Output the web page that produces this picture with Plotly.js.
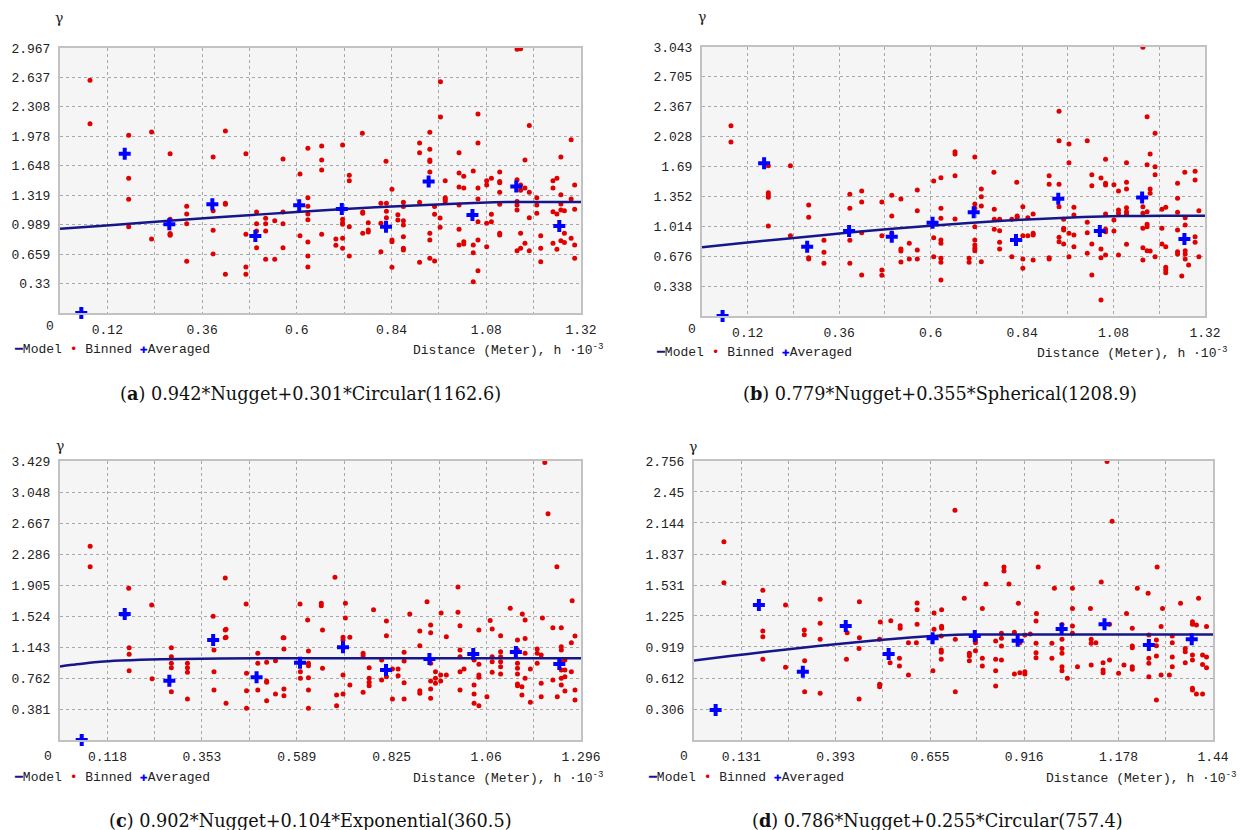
<!DOCTYPE html>
<html><head><meta charset="utf-8">
<script src="https://cdn.plot.ly/plotly-3.0.1.min.js"></script>
<style>html,body{margin:0;padding:0;background:#fff;}#chart{width:1246px;height:830px;}</style>
</head><body><div id="chart"></div>
<script>
// ---------- Panel (a) ----------
const aXTicks=[0.12,0.36,0.6,0.84,1.08,1.32];
const aXMinor=[0.24,0.48,0.72,0.96,1.2];
const aYTicks=[0.33,0.659,0.989,1.319,1.648,1.978,2.308,2.637,2.967];
const aBinX=[0.076,0.076,0.174,0.232,0.279,0.388,0.419,0.471,0.565,0.608,0.628,0.174,0.628,0.174,
0.174,0.232,0.279,0.279,0.279,0.279,0.321,0.321,0.321,0.321,0.388,0.388,0.388,0.419,0.419,0.419,0.471,0.471,0.471,0.498,0.498,0.498,0.498,0.521,0.521,0.521,0.521,0.544,0.544,0.565,0.565,0.565,0.608,0.628,0.628,0.628,0.628,0.628,0.628,
1.158,1.167,0.964,0.964,1.059,1.189,0.937,0.766,0.911,1.059,1.295,0.663,0.716,0.911,0.937,1.011,0.937,0.937,0.663,0.663,0.826,1.178,1.269,0.733,0.733,0.937,1.011,1.023,1.047,1.081,1.081,1.093,1.114,1.114,1.114,1.114,1.158,1.167,1.167,1.178,1.189,1.208,1.249,1.249,1.259,1.269,1.295,1.304,0.976,0.976,1.011,1.023,1.059,1.059,
0.716,0.716,0.716,0.716,0.716,0.733,0.733,0.699,0.699,0.663,0.767,0.767,0.767,0.781,0.781,0.781,0.813,0.813,0.813,0.827,0.827,0.827,0.841,0.841,0.841,0.841,0.856,0.856,0.870,0.870,0.870,0.870,0.870,0.870,0.870,0.911,0.911,0.937,0.937,0.937,0.949,0.949,0.949,0.963,0.963,0.976,0.976,1.011,1.011,1.011,1.023,1.023,1.047,1.047,1.047,1.059,1.059,1.059,1.081,1.081,1.093,1.093,1.114,1.114,1.114,1.158,1.158,1.158,1.158,1.167,1.167,1.178,1.189,1.189,1.208,1.208,1.218,1.218,1.218,1.249,1.249,1.259,1.259,1.269,1.269,1.269,1.278,1.278,1.278,1.295,1.304,1.304,1.304];
const aBinY=[2.606,2.12,1.99,2.027,1.784,1.747,2.038,1.784,1.725,1.556,1.844,1.508,1.291,1.273,
0.967,0.829,1.049,0.89,0.88,0.87,1.195,1.109,1.0,0.579,1.146,0.926,0.661,1.229,1.217,0.433,0.881,0.515,0.433,1.131,1.0,0.918,0.731,1.06,1.0,0.918,0.601,1.034,0.601,1.131,1.0,0.731,0.866,1.195,1.109,1.045,0.795,0.638,0.515,
2.953,2.96,2.59,2.195,2.229,2.098,2.024,2.013,1.904,1.904,1.941,1.870,1.882,1.795,1.833,1.795,1.714,1.695,1.714,1.602,1.699,1.714,1.747,1.542,1.482,1.579,1.568,1.531,1.590,1.482,1.434,1.509,1.579,1.471,1.459,1.352,1.493,1.434,1.374,1.40,1.352,1.291,1.482,1.40,1.509,1.325,1.277,1.434,1.482,1.291,1.411,1.40,1.40,1.277,
1.049,1.011,0.993,0.836,0.724,0.967,0.638,0.829,0.758,0.881,1.131,1.117,0.893,1.011,0.93,0.907,1.229,1.005,0.687,1.229,1.139,1.067,1.385,0.818,0.799,0.512,1.10,1.042,1.24,1.191,1.034,0.986,0.855,0.724,0.706,1.24,0.568,0.893,0.818,0.613,1.191,1.105,0.582,1.064,0.96,1.273,1.247,1.21,0.938,0.762,0.799,0.773,0.762,0.675,0.351,1.023,0.818,0.474,1.005,0.743,1.105,1.023,1.217,0.893,0.874,1.247,1.21,1.154,0.698,0.893,0.724,0.781,1.067,0.698,1.21,1.117,0.866,0.724,0.575,1.135,0.781,1.109,0.713,1.221,1.154,0.81,1.146,0.893,0.788,0.836,1.161,0.762,0.613];
const aAvgX=[0.054,0.164,0.277,0.386,0.495,0.606,0.714,0.826,0.934,1.045,1.156,1.265];
const aAvgY=[0.0,1.784,0.993,1.217,0.862,1.206,1.165,0.967,1.471,1.098,1.415,0.974];
const aModelX=[0,0.1,0.2,0.4,0.6,0.8,1.0,1.1,1.1626,1.32];
const aModelY=[0.942,0.975,1.008,1.071,1.131,1.183,1.224,1.239,1.243,1.243];

// ---------- Panel (b) ----------
const bXTicks=[0.12,0.36,0.6,0.84,1.08,1.32];
const bXMinor=[0.24,0.48,0.72,0.96,1.2];
const bYTicks=[0.338,0.676,1.014,1.352,1.69,2.028,2.367,2.705,3.043];
const bBinX=[0.076,0.076,0.174,0.232,0.174,0.174,0.388,0.419,0.498,0.522,0.565,0.608,0.627,
0.174,0.174,0.232,0.28,0.28,0.28,0.28,0.320,0.320,0.320,0.388,0.388,0.388,0.419,0.419,0.419,0.472,0.472,0.472,0.472,0.498,0.498,0.522,0.522,0.522,0.544,0.544,0.565,0.565,0.565,0.608,0.608,0.627,0.627,0.627,0.627,0.627,0.627,0.627,
1.157,0.937,1.168,1.189,0.937,0.963,1.011,0.664,0.664,0.716,1.176,0.963,1.059,1.114,1.168,1.189,1.189,0.664,0.766,0.826,0.911,0.911,0.937,1.023,1.023,1.047,1.059,1.059,1.081,1.093,1.114,1.114,1.176,1.176,1.248,1.267,1.294,1.294,1.248,0.733,0.733,
0.733,0.716,0.716,0.716,0.716,0.716,0.716,0.716,0.701,0.701,0.733,0.664,0.767,0.767,0.781,0.781,0.781,0.781,0.767,0.813,0.813,0.827,0.827,0.842,0.842,0.842,0.842,0.855,0.855,0.869,0.869,0.869,0.869,0.911,0.911,0.937,0.937,0.937,0.949,0.949,0.949,0.949,0.963,0.963,0.976,0.976,0.976,0.976,1.011,1.011,1.011,1.023,1.023,1.047,1.047,1.047,1.059,1.059,1.059,1.059,1.081,1.081,1.093,1.093,1.093,1.114,1.114,1.114,1.114,1.157,1.157,1.157,1.157,1.157,1.168,1.168,1.168,1.168,1.176,1.189,1.207,1.207,1.207,1.217,1.217,1.217,1.217,1.217,1.248,1.248,1.248,1.248,1.259,1.268,1.268,1.268,1.268,1.268,1.277,1.294,1.294,1.304,1.304];
const bBinY=[2.153,1.968,1.70,1.70,1.395,1.343,1.377,1.414,1.365,1.324,1.425,1.527,1.565,
1.369,1.018,0.908,1.256,1.116,0.66,0.645,0.856,0.721,0.596,1.218,0.856,0.596,1.29,0.942,0.464,1.29,0.908,0.52,0.46,1.131,0.935,0.758,0.735,0.611,0.822,0.645,1.191,0.747,0.645,0.886,0.671,1.218,1.105,0.86,0.822,0.653,0.607,0.407,
3.04,2.316,2.255,2.067,1.983,1.946,1.983,1.859,1.833,1.799,1.833,1.734,1.773,1.734,1.712,1.689,1.598,1.587,1.626,1.512,1.587,1.49,1.49,1.598,1.474,1.561,1.501,1.482,1.485,1.414,1.512,1.437,1.437,1.388,1.501,1.626,1.637,1.538,1.331,1.437,1.35,
1.244,1.267,1.218,1.01,0.86,0.803,0.766,0.739,0.653,0.607,0.614,1.097,1.207,0.981,1.094,0.965,0.834,0.758,1.094,1.094,0.671,1.131,1.116,1.237,0.908,0.645,0.54,1.112,0.908,1.154,0.935,0.916,0.634,0.66,0.645,1.237,0.89,0.841,1.094,0.992,0.973,0.815,0.935,0.671,1.23,1.143,0.916,0.784,1.06,0.942,0.709,0.815,0.464,0.758,0.66,0.181,1.154,0.981,0.954,0.69,1.086,0.962,1.199,1.162,0.69,1.225,1.18,1.15,0.811,1.237,1.162,0.992,0.773,0.634,1.18,1.037,1.01,0.739,0.735,0.671,1.207,0.992,0.815,1.23,0.784,0.551,0.52,0.49,1.173,0.973,0.727,0.701,0.452,1.112,1.029,0.739,0.701,0.645,0.577,0.897,0.834,0.671,1.191];
const bAvgX=[0.054,0.163,0.276,0.386,0.498,0.605,0.713,0.824,0.935,1.044,1.155,1.266];
const bAvgY=[0.0,1.727,0.784,0.962,0.897,1.055,1.173,0.86,1.326,0.962,1.34,0.871];
const bModelX=[0,0.1,0.2,0.4,0.6,0.8,1.0,1.1,1.209,1.32];
const bModelY=[0.779,0.823,0.866,0.949,1.022,1.080,1.119,1.130,1.134,1.134];

// ---------- Panel (c) ----------
const cXTicks=[0.118,0.353,0.589,0.825,1.06,1.296];
const cXMinor=[0.236,0.471,0.707,0.943,1.178];
const cYTicks=[0.381,0.762,1.143,1.524,1.905,2.286,2.667,3.048,3.429];
const cBinX=[0.075,0.075,0.171,0.228,0.411,0.463,0.381,0.597,0.616,0.411,0.411,0.555,
0.172,0.172,0.172,0.229,0.277,0.277,0.277,0.277,0.277,0.317,0.317,0.317,0.317,0.383,0.383,0.383,0.413,0.413,0.413,0.464,0.464,0.464,0.492,0.492,0.492,0.514,0.514,0.514,0.514,0.536,0.536,0.557,0.557,0.557,0.557,0.598,0.598,0.618,0.618,0.618,0.618,0.618,0.618,0.653,0.653,0.688,0.688,0.704,0.704,0.704,0.704,0.721,0.721,0.754,0.754,0.754,0.769,0.769,0.769,0.769,0.8,0.8,0.812,0.812,0.812,0.827,0.827,0.841,0.841,0.856,0.856,0.856,0.856,0.895,0.895,0.895,0.895,0.922,0.922,0.922,0.922,0.922,0.922,0.934,0.934,0.934,0.947,0.947,0.961,0.961,0.995,0.995,0.995,0.995,0.995,1.005,1.03,1.03,1.03,1.03,1.042,1.042,1.042,1.042,1.042,1.062,1.075,1.075,1.075,1.075,1.096,1.096,1.096,1.096,1.096,1.096,1.138,1.138,1.138,1.138,1.138,1.138,1.138,1.149,1.149,1.157,1.157,1.157,1.157,1.17,1.17,1.187,1.187,1.187,1.197,1.197,1.197,1.226,1.226,1.237,1.247,1.247,1.247,1.247,1.247,1.247,1.247,1.256,1.256,1.256,1.256,1.272,1.272,1.281,1.281,1.281,
1.206,1.214,1.236,0.684,0.99,1.274,0.65,0.65,0.71,0.71,0.913,0.948,0.99,1.07,0.78,1.12,1.15,0.87,1.2];
const cBinY=[2.381,2.13,1.864,1.659,1.991,1.671,1.52,1.671,1.475,1.352,1.257,1.257,
1.135,1.053,0.852,0.754,1.135,1.024,0.942,0.889,0.594,0.942,0.889,0.832,0.504,1.106,0.84,0.615,1.36,1.262,0.451,0.82,0.606,0.39,1.065,0.942,0.615,0.955,0.725,0.709,0.483,0.975,0.565,1.258,1.118,0.627,0.545,0.84,0.758,1.094,0.942,0.913,0.766,0.615,0.39,1.352,0.881,0.553,0.422,1.262,1.229,0.799,0.565,1.262,0.676,1.065,1.036,0.586,0.889,0.758,0.709,0.668,0.983,0.737,1.463,1.282,0.778,0.873,0.504,0.873,0.79,1.078,0.971,0.705,0.504,1.34,1.159,0.606,0.574,1.413,1.319,0.942,0.725,0.627,0.512,0.84,0.758,0.697,0.799,0.725,1.27,0.799,1.405,1.106,1.024,0.84,0.615,0.873,0.983,0.676,0.565,0.451,1.352,0.93,0.799,0.77,0.422,0.532,1.364,1.024,0.962,0.832,1.282,1.085,1.024,0.962,0.901,0.811,1.229,1.106,0.942,0.881,0.811,0.688,0.668,0.655,0.553,1.475,1.249,1.065,0.758,0.873,0.463,1.118,1.065,0.942,1.045,0.697,0.532,1.381,0.737,0.532,1.381,1.147,1.106,0.962,0.86,0.758,0.676,0.983,0.86,0.778,0.602,1.196,0.84,1.278,0.615,0.492,
3.41,2.78,2.13,2.0,1.88,1.71,1.68,1.65,1.68,1.5,1.7,1.56,1.57,1.47,1.6,1.62,1.55,1.55,1.5];
const cAvgX=[0.054,0.161,0.272,0.381,0.489,0.597,0.704,0.811,0.919,1.028,1.134,1.242];
const cAvgY=[0.0,1.549,0.729,1.229,0.77,0.95,1.139,0.86,0.995,1.057,1.081,0.934];
const cModelX=[0,0.03,0.06,0.1,0.15,0.2,0.3,0.4,0.6,0.9,1.296];
const cModelY=[0.902,0.924,0.941,0.961,0.976,0.986,0.997,1.002,1.005,1.006,1.006];

// ---------- Panel (d) ----------
const dXTicks=[0.131,0.393,0.655,0.916,1.178,1.44];
const dXMinor=[0.262,0.524,0.785,1.047,1.309];
const dYTicks=[0.306,0.612,0.919,1.225,1.531,1.837,2.144,2.45,2.756];
const dBinX=[0.083,0.083,0.191,0.254,0.35,0.459,0.619,0.619,0.619,0.666,0.687,0.191,0.191,0.306,0.306,0.35,0.35,0.425,0.459,0.517,0.546,0.572,0.572,0.666,0.687,0.687,
0.191,0.254,0.307,0.307,0.35,0.423,0.458,0.458,0.515,0.515,0.515,0.544,0.57,0.57,0.595,0.595,0.617,0.663,0.686,0.686,0.686,0.686,0.725,0.725,0.764,0.764,0.764,0.781,0.781,0.781,0.781,0.8,0.8,0.837,0.837,0.837,0.837,0.853,0.853,0.853,0.853,0.889,0.889,0.904,0.904,0.918,0.918,0.918,0.933,0.949,0.949,0.949,0.949,0.993,0.993,1.021,1.021,1.021,1.021,1.021,1.021,1.021,1.036,1.05,1.05,1.064,1.102,1.102,1.102,1.115,1.135,1.135,1.135,1.153,1.153,1.178,1.193,1.216,1.216,1.216,1.216,1.216,1.262,1.262,1.262,1.262,1.283,1.283,1.283,1.283,1.296,1.296,1.327,1.327,1.327,1.327,1.319,1.363,1.363,1.363,1.383,1.383,1.383,1.383,1.383,1.383,1.394,1.394,1.411,1.411,1.411,1.422,1.422,1.422,
0.724,1.146,1.16,0.86,0.86,0.955,1.285,0.81,0.874,1.0,1.05,1.13,1.23,1.26,0.75,0.9,1.1,1.2,1.3,1.35,1.4,0.8,0.95,1.05];
const dBinY=[1.959,1.554,1.479,1.334,1.39,1.366,1.353,1.287,1.143,1.254,1.287,1.077,1.02,1.087,1.04,1.153,0.995,1.06,1.011,1.166,1.179,1.129,1.103,1.093,1.123,1.103,
0.797,0.718,0.784,0.477,0.461,0.797,0.905,0.405,0.994,0.55,0.527,0.764,0.807,0.731,0.961,0.642,0.961,0.685,1.027,0.889,0.866,0.797,0.994,0.477,0.856,0.833,0.784,1.014,0.988,0.961,0.882,0.807,0.731,0.978,0.797,0.685,0.533,1.054,1.004,0.929,0.79,1.064,0.652,0.961,0.665,1.037,0.675,0.652,1.047,1.175,0.955,0.863,0.813,0.955,0.807,1.14,1.093,0.994,0.905,0.856,0.724,0.685,0.609,1.126,1.054,0.724,0.994,0.955,0.741,0.961,0.764,0.691,0.665,1.143,0.79,0.66,0.741,1.103,0.929,0.912,0.724,0.698,1.037,0.807,0.758,0.625,0.988,0.932,0.83,0.395,1.12,0.642,1.027,0.961,0.82,0.724,0.642,0.905,0.872,0.764,1.169,1.143,0.84,0.79,0.51,0.494,1.136,0.454,0.84,0.745,0.454,1.12,0.82,0.714,
2.27,2.75,2.16,1.71,1.67,1.71,1.71,1.54,1.54,1.5,1.5,1.56,1.5,1.45,1.4,1.35,1.3,1.25,1.3,1.35,1.4,1.3,1.25,1.3];
const dAvgX=[0.06,0.18,0.302,0.421,0.54,0.662,0.779,0.898,1.02,1.139,1.262,1.381];
const dAvgY=[0.296,1.334,0.675,1.126,0.85,1.004,1.027,0.981,1.096,1.143,0.938,0.994];
const dModelX=[0,0.1,0.2,0.3,0.4,0.5,0.6,0.7,0.757,1.0,1.44];
const dModelY=[0.786,0.829,0.871,0.911,0.949,0.983,1.013,1.035,1.041,1.041,1.041];

const captions=[
 '(<b>a</b>) 0.942*Nugget+0.301*Circular(1162.6)',
 '(<b>b</b>) 0.779*Nugget+0.355*Spherical(1208.9)',
 '(<b>c</b>) 0.902*Nugget+0.104*Exponential(360.5)',
 '(<b>d</b>) 0.786*Nugget+0.255*Circular(757.4)'];

// ---------- layout helpers ----------
const W=1246,H=830;
const px=p=>p/W, py=p=>1-p/H;
const MONO='Liberation Mono, DejaVu Sans Mono, monospace';
const panels=[
 {bin:[aBinX,aBinY],avg:[aAvgX,aAvgY],mod:[aModelX,aModelY],xt:aXTicks,xm:aXMinor,yt:aYTicks,box:[60,581,48,313],zero:[50,326],leg:[12,349],ttl:[605,349],gam:[59,18],cap:[310,393]},
 {bin:[bBinX,bBinY],avg:[bAvgX,bAvgY],mod:[bModelX,bModelY],xt:bXTicks,xm:bXMinor,yt:bYTicks,box:[702,1205,47,316],zero:[692,329],leg:[654,352],ttl:[1229,352],gam:[702,17],cap:[940,393]},
 {bin:[cBinX,cBinY],avg:[cAvgX,cAvgY],mod:[cModelX,cModelY],xt:cXTicks,xm:cXMinor,yt:cYTicks,box:[60,581,461,740],zero:[48,756],leg:[12,777],ttl:[605,777],gam:[60,446],cap:[310,820]},
 {bin:[dBinX,dBinY],avg:[dAvgX,dAvgY],mod:[dModelX,dModelY],xt:dXTicks,xm:dXMinor,yt:dYTicks,box:[694,1213,461,740],zero:[684,756],leg:[646,777],ttl:[1238,777],gam:[693,447],cap:[937,820]}
];

const data=[], layout={width:W,height:H,margin:{l:0,r:0,t:0,b:0},paper_bgcolor:'#ffffff',plot_bgcolor:'rgba(0,0,0,0)',showlegend:false,annotations:[]};
panels.forEach((p,i)=>{
  const n=i===0?'':String(i+1);
  const xa='x'+n, ya='y'+n;
  data.push({type:'scatter',mode:'markers',x:p.bin[0],y:p.bin[1],xaxis:xa,yaxis:ya,name:'Binned',
    marker:{color:'#e00000',size:5},cliponaxis:false});
  data.push({type:'scatter',mode:'lines',x:p.mod[0],y:p.mod[1],xaxis:xa,yaxis:ya,name:'Model',
    line:{color:'#16168a',width:2.5,shape:'spline',smoothing:0.6}});
  data.push({type:'scatter',mode:'markers',x:p.avg[0],y:p.avg[1],xaxis:xa,yaxis:ya,name:'Averaged',
    marker:{color:'#0000ff',size:10,symbol:'cross',line:{width:0}},cliponaxis:false});
  const xmax=p.xt[p.xt.length-1], ymax=p.yt[p.yt.length-1];
  const grid={showgrid:true,gridcolor:'#a9a9a9',griddash:'dot',gridwidth:1};
  const common=Object.assign({},grid,{zeroline:false,showline:true,linecolor:'#c2c2c2',linewidth:2,mirror:true,ticks:'',fixedrange:true,
    tickfont:{family:MONO,size:13,color:'#222'}});
  layout['xaxis'+n]=Object.assign({},common,{domain:[px(p.box[0]),px(p.box[1])],range:[0,xmax],
    tickmode:'array',tickvals:p.xt,ticktext:p.xt.map(String),anchor:ya,ticklabelstandoff:3,
    minor:Object.assign({tickmode:'array',tickvals:p.xm,ticks:''},grid)});
  layout['yaxis'+n]=Object.assign({},common,{domain:[py(p.box[3]),py(p.box[2])],range:[0,ymax],
    tickmode:'array',tickvals:p.yt,ticktext:p.yt.map(String),anchor:xa,ticklabelstandoff:5});
  const A=layout.annotations;
  A.push({xref:'paper',yref:'paper',x:px(p.zero[0]),y:py(p.zero[1]),text:'0',showarrow:false,
    xanchor:'center',yanchor:'middle',font:{family:MONO,size:13,color:'#222'}});
  A.push({xref:'paper',yref:'paper',x:px(p.leg[0]),y:py(p.leg[1]),showarrow:false,xanchor:'left',yanchor:'middle',
    text:"<span style='color:#16168a'>━</span>Model <span style='color:#e00000'>•</span> Binned <span style='color:#0000ff'>✚</span>Averaged",
    font:{family:MONO,size:13,color:'#222'}});
  A.push({xref:'paper',yref:'paper',x:px(p.ttl[0]),y:py(p.ttl[1]),showarrow:false,xanchor:'right',yanchor:'middle',
    text:'Distance (Meter), h ·10<sup>-3</sup>',font:{family:MONO,size:13,color:'#222'}});
  A.push({xref:'paper',yref:'paper',x:px(p.gam[0]),y:py(p.gam[1]),showarrow:false,xanchor:'center',yanchor:'middle',
    text:'γ',font:{family:'DejaVu Serif, serif',size:14,color:'#222'}});
  A.push({xref:'paper',yref:'paper',x:px(p.cap[0]),y:py(p.cap[1]),showarrow:false,xanchor:'center',yanchor:'middle',
    text:captions[i],font:{family:'DejaVu Serif, serif',size:17.7,color:'#111'}});
});
layout.shapes=panels.map(p=>({type:'rect',xref:'paper',yref:'paper',layer:'below',
  x0:px(p.box[0]),x1:px(p.box[1]),y0:py(p.box[3]),y1:py(p.box[2]),fillcolor:'#f5f5f5',line:{width:0}}));
Plotly.newPlot('chart',data,layout,{displayModeBar:false,staticPlot:true}).then(gd=>{
  // drop Plotly's empty placeholder title texts
  gd.querySelectorAll('text').forEach(t=>{ if(!t.textContent.trim()) t.remove(); });
});
</script></body></html>
